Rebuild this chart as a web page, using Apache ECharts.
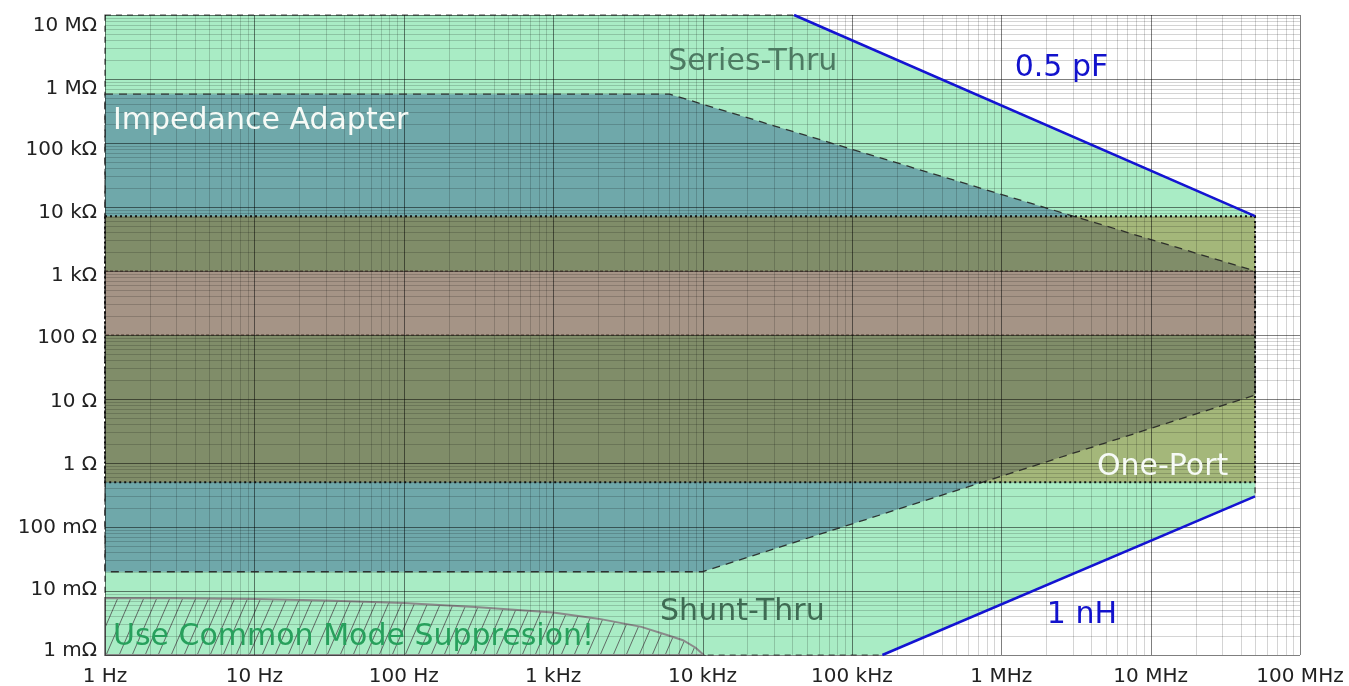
<!DOCTYPE html>
<html><head><meta charset="utf-8">
<script src="https://cdn.jsdelivr.net/npm/echarts@6/dist/echarts.min.js"></script>
<style>html,body{margin:0;padding:0;background:#fff}#c{width:1349px;height:686px}</style>
</head><body><div id="c"></div>
<script>
// ---- data (frequency in Hz, impedance in Ohm) ----
const xTickLabels = ['1 Hz','10 Hz','100 Hz','1 kHz','10 kHz','100 kHz','1 MHz','10 MHz','100 MHz'];
const yTickLabels = ['1 mΩ','10 mΩ','100 mΩ','1 Ω','10 Ω','100 Ω','1 kΩ','10 kΩ','100 kΩ','1 MΩ','10 MΩ'];
const thruRegion = [[1,1e7],[4.1e4,1e7],[5e7,7.2e3],[5e7,0.3],[1.6e5,1e-3],[1,1e-3]];
const adapterRegion = [[1,5.8e5],[6e3,5.8e5],[5e7,1e3],[5e7,11.5],[1e4,2e-2],[1,2e-2]];
const onePortRegion = [[1,7.2e3],[5e7,7.2e3],[5e7,0.5],[1,0.5]];
const midBandRegion = [[1,1e3],[5e7,1e3],[5e7,100],[1,100]];
const commonModeRegion = [[1,7.8e-3],[3,7.7e-3],[10,7.5e-3],[30,7.1e-3],[100,6.5e-3],[300,5.6e-3],[1e3,4.6e-3],[2e3,3.7e-3],[3.9e3,2.75e-3],[6e3,2.0e-3],[7.4e3,1.7e-3],[9e3,1.3e-3],[1.02e4,1e-3],[1,1e-3]];
const cap05pF = [[4.1e4,1e7],[5e7,7.2e3]];
const ind1nH = [[1.6e5,1e-3],[5e7,0.3]];
const annotationTexts = ['Series-Thru','Impedance Adapter','0.5 pF','One-Port','Shunt-Thru','1 nH','Use Common Mode Suppresion!'];
const annotationAnchors = [[5.9e3,1.85e6],[1.13,2.2e5],[1.23e6,1.45e6],[4.37e6,0.87],[5.2e3,4.6e-3],[2.02e6,4.2e-3],[1.13,1.9e-3]];

// ---- styles ----
const annotationColors = ['#4d7a62','#f6faf6','#1212cc','#f6faf6','#3f6b53','#1212cc','#27a05c'];
const yLabelShift = [-4,-1,1,2,3,3,5,6,7,10,11];
const FONT = '"DejaVu Sans", Verdana, sans-serif';

function hatchCanvas(){
  const w=13,h=30,c=document.createElement('canvas');c.width=w;c.height=h;
  const g=c.getContext('2d');g.strokeStyle='rgba(85,85,85,0.85)';g.lineWidth=1;
  g.beginPath();
  for(let k=-1;k<=1;k++){g.moveTo(k*w-1,h+h/w);g.lineTo(k*w+w+1,-h/w);}
  g.stroke();return c;
}

function poly(pts, style, z){
  return {type:'custom', z:z, silent:true, clip:false, data:[[pts[0][0],pts[0][1]]],
    renderItem:function(params, api){
      return {type:'polygon', shape:{points:pts.map(p=>api.coord(p))}, style:style};
    }};
}

const gridSeries = {type:'custom', z:5, silent:true, clip:false, data:[[1,1]],
  renderItem:function(params, api){
    const cs=params.coordSys, top=cs.y, bot=cs.y+cs.height, left=cs.x, right=cs.x+cs.width;
    const ch=[];
    const add=(x1,y1,x2,y2,major)=>ch.push({type:'line',shape:{x1,y1,x2,y2},
      style:{stroke: major?'rgba(0,0,0,0.5)':'rgba(0,0,0,0.17)', lineWidth:1}});
    for(let d=0; d<=8; d++){
      for(let m=1;m<=9;m++){
        const v=m*Math.pow(10,d); if(v>1e8) break;
        const x=Math.round(api.coord([v,1])[0])+0.5;
        add(x,top,x,bot,m===1);
      }
    }
    for(let d=-3; d<=7; d++){
      for(let m=1;m<=9;m++){
        const v=m*Math.pow(10,d); if(v>1e7*1.0001) break;
        const y=Math.round(api.coord([1,v])[1])+0.5;
        add(left,y,right,y,m===1);
      }
    }
    return {type:'group', children:ch};
  }};

const textSeries = {type:'custom', z:20, silent:true, clip:false,
  data: annotationAnchors.map((a,i)=>[a[0],a[1],i]),
  renderItem:function(params, api){
    const i=params.dataIndex, p=api.coord(annotationAnchors[i]);
    return {type:'text', x:p[0], y:p[1], style:{text:annotationTexts[i], fill:annotationColors[i],
      font:'30px '+FONT, align:'left', verticalAlign:'middle'}};
  }};

const rich={};
yLabelShift.forEach((s,i)=>{rich['s'+i]={fontFamily:FONT,fontSize:20,color:'#222',
  padding: s>=0?[2*s,0,0,0]:[0,0,-2*s,0]};});

const chart = echarts.init(document.getElementById('c'), null, {renderer:'canvas'});
chart.setOption({
  animation:false,
  backgroundColor:'#ffffff',
  grid:{left:105,right:49,top:15,bottom:31,containLabel:false,outerBoundsMode:'none'},
  xAxis:{type:'log', logBase:10, min:1, max:1e8, interval:1,
    axisLine:{show:false}, axisTick:{show:false}, splitLine:{show:false},
    axisLabel:{show:true, interval:0, showMinLabel:true, showMaxLabel:true, hideOverlap:false, margin:12,
      fontFamily:FONT, fontSize:20, color:'#222',
      formatter:(v)=>xTickLabels[Math.round(Math.log10(v))] || ''}},
  yAxis:{type:'log', logBase:10, min:1e-3, max:1e7, interval:1,
    axisLine:{show:false}, axisTick:{show:false}, splitLine:{show:false},
    axisLabel:{show:true, interval:0, showMinLabel:true, showMaxLabel:true, hideOverlap:false, margin:8,
      fontFamily:FONT, fontSize:20, color:'#222', rich:rich,
      formatter:(v)=>{const i=Math.round(Math.log10(v))+3; return yTickLabels[i]?('{s'+i+'|'+yTickLabels[i]+'}'):'';}}},
  series:[
    poly(thruRegion,{fill:'#a9ecc5', stroke:'rgba(40,40,40,0.85)', lineWidth:1.2, lineDash:[6,5]},1),
    poly(adapterRegion,{fill:'#6fa8aa', stroke:null},2),
    poly(onePortRegion,{fill:'rgba(158,97,0,0.38)', stroke:null},3),
    poly(midBandRegion,{fill:'#a59486', stroke:'rgba(60,40,30,0.85)', lineWidth:1, lineDash:[3,2]},4),
    poly(commonModeRegion,{fill:{image:hatchCanvas(), repeat:'repeat'}, stroke:'#8a8a8a', lineWidth:2},4),
    gridSeries,
    poly(adapterRegion,{fill:null, stroke:'rgba(35,35,35,0.9)', lineWidth:1.3, lineDash:[8,6]},7),
    poly(onePortRegion,{fill:null, stroke:'#111', lineWidth:2, lineDash:[2,3]},8),
    {type:'line', z:9, silent:true, symbol:'none', data:cap05pF, lineStyle:{color:'#1414d2', width:2.5}},
    {type:'line', z:9, silent:true, symbol:'none', data:ind1nH, lineStyle:{color:'#1414d2', width:2.5}},
    textSeries
  ]
});
</script></body></html>
